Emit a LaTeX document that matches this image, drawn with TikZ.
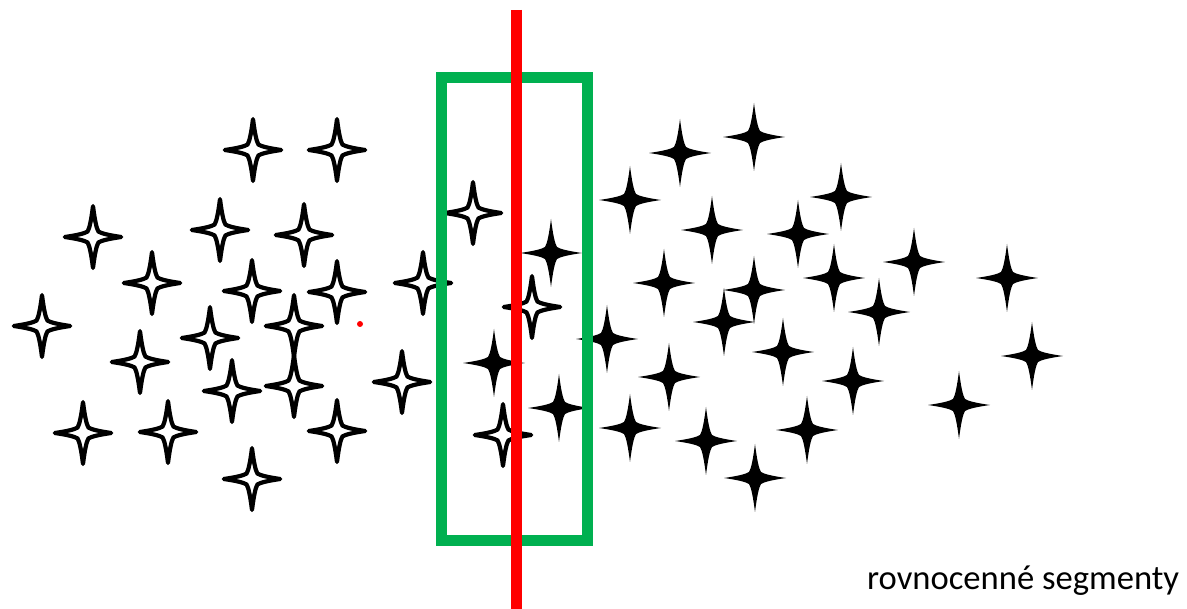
\documentclass[tikz,border=0pt]{standalone}
\usepackage{fontspec}
\setmainfont{Carlito}
\definecolor{zelena}{HTML}{00B050}
\definecolor{cervena}{HTML}{FF0000}

\tikzset{
  hvezda/.pic={
    \path[pic actions] (0,-34) .. controls (2,-18) and (4,-9) .. (6,-6)
      .. controls (9,-4) and (17,-2) .. (31,0)
      .. controls (17,2) and (9,4) .. (6,6)
      .. controls (4,9) and (2,18) .. (0,34)
      .. controls (-2,18) and (-4,9) .. (-6,6)
      .. controls (-9,4) and (-17,2) .. (-31,0)
      .. controls (-17,-2) and (-9,-4) .. (-6,-6)
      .. controls (-4,-9) and (-2,-18) .. cycle;
  },
  plna/.style={fill=black},
  duta/.style={fill=white,draw=black,line width=4.2pt,line join=round,scale=0.91},
  okraj/.style={draw=zelena,line width=11pt,inner sep=0pt},
  rez/.style={cervena,line width=11pt},
}

\begin{document}
\begin{tikzpicture}[x=1pt,y=-1pt]
  \useasboundingbox (0,0) rectangle (1187,609);
  % hollow stars on the left
  \foreach \x/\y in {253/150,337/150,93/237,220/230,304/235,152/283,252/291,
      337/292,423/283,42/326,210/338,294/326,140/362,232/391,294/386,402/382,
      83/433,168/432,337/431,252/479,473/213,532/307,503/435}
    \pic[duta] at (\x,\y) {hvezda};
  % solid stars on the right
  \foreach \x/\y in {551/253,494/363,559/408,680/153,754/137,630/200,841/197,
      712/230,798/234,914/262,1007/278,664/283,754/290,834/278,879/312,724/322,
      607/339,783/352,1032/356,669/377,853/381,959/405,630/428,706/441,807/430,
      755/478}
    \pic[plna] at (\x,\y) {hvezda};
  \fill[cervena] (360,324) circle (3pt);
  \node[okraj,minimum width=146pt,minimum height=463pt] (okno) at (514.5,309.5) {};
  \coordinate (horeRez) at (516,10);
  \coordinate (doleRez) at (516,609);
  \draw[rez] (horeRez) -- (doleRez);
  \node[anchor=base west,inner sep=0pt,font=\fontsize{34.6}{40}\selectfont] (popis)
    at (867,589) {rovnocenné segmenty};
\end{tikzpicture}
\end{document}
